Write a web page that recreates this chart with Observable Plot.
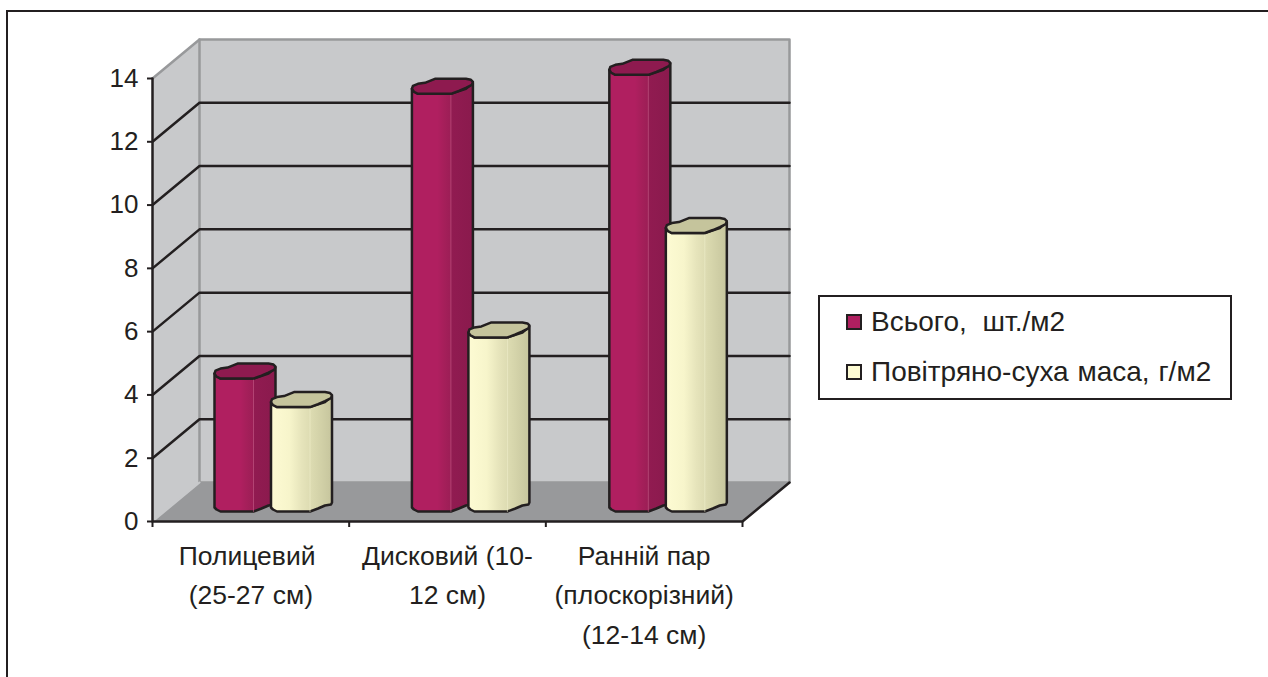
<!DOCTYPE html>
<html><head><meta charset="utf-8">
<script src="https://cdn.jsdelivr.net/npm/d3@7"></script>
<script src="https://cdn.jsdelivr.net/npm/@observablehq/plot@0.6"></script>
<style>
html,body{margin:0;background:#fff;overflow:hidden;font-family:"Liberation Sans",Arial,sans-serif;color:#231f20}
#frame{position:absolute;left:6px;top:10px;width:1300px;height:700px;border:2.5px solid #231f20;box-sizing:border-box}
#chart{position:absolute;left:0;top:0}
#legend{position:absolute;left:818px;top:295px;width:414px;height:105px;border:2.5px solid #231f20;box-sizing:border-box;background:#fff}
.li{position:absolute;left:26px;display:flex;align-items:center;font-size:28px;white-space:nowrap;height:30px;word-spacing:1px}
.li.first{word-spacing:8px}
.sw{width:16px;height:16px;border:2px solid #231f20;box-sizing:border-box;margin-right:9px}
</style></head><body>
<div id="frame"></div><div id="chart"></div>
<div id="legend"></div>
<script>
const categories = ["Полицевий \n(25-27 см)", "Дисковий (10-\n12 см)", "Ранній пар\n(плоскорізний)\n(12-14 см)"];
const seriesNames = ["Всього, шт./м2", "Повітряно-суха маса, г/м2"];
const totalValues = [4.2, 13.2, 13.8];
const massValues = [3.3, 5.5, 8.8];
const yTicks = [0, 2, 4, 6, 8, 10, 12, 14];

const W = 1268, H = 677, L = 152, R = 742, T = 78, B = 521;
const ux = (R - L) / categories.length, uy = (B - T) / 14;
const px = p => p / ux, py = p => p / uy;      // pixel lengths → data units
const DX = px(47), DY = py(39);                // depth of the 3-D box
const BX = [px(62), px(118.5)];                // bar offset inside a category
const GAP = px(0.75);
const BASE = py(10);

const colors = [
  {id:"gMaroon", cap:"#8e1a4f", stops:[[0,"#b01f60"],[.42,"#b01f60"],[.53,"#a51f5a"],[.635,"#9c1e56"],[.645,"#911b51"],[1,"#8a1a4d"]], legend:"#b01f60"},
  {id:"gYellow", cap:"#c5c49c", stops:[[0,"#fdfbd3"],[.3,"#f7f5cb"],[.5,"#e6e4bb"],[.72,"#d8d7ad"],[1,"#c6c59d"]], legend:"#fdfbd3"}
];

const poly = (pts, id) => pts.map(([x, y]) => ({x, y, id}));
function barBody(c, s, v) {
  const x0 = c + BX[s] + c * GAP, Y = BASE + v;
  const t = (a, b) => [x0 + px(a), Y + py(-b)], f = (a, b) => [x0 + px(a), BASE + py(-b)];
  return [t(0,-5), f(0,-4), f(2,-2), f(6,0), f(39,0), f(47,-3), f(54,-6), f(60,-7), f(61,-9), t(61,-11), t(54,-5), t(39,0), t(6,0), t(0,-5)];
}
function barCap(c, s, v) {
  const x0 = c + BX[s] + c * GAP, Y = BASE + v;
  const t = (a, b) => [x0 + px(a), Y + py(-b)];
  return [t(0,-5), t(1,-8), t(6,-10), t(13,-11), t(18,-13), t(23,-15), t(54,-15), t(59,-14), t(61,-12), t(60,-9), t(54,-6), t(47,-3), t(39,0), t(6,0), t(2,-2), t(0,-5)];
}

const defs = () => {
  const d = d3.create("svg:defs");
  for (const g of colors) {
    const lg = d.append("linearGradient").attr("id", g.id);
    for (const [o, col] of g.stops) lg.append("stop").attr("offset", o).attr("stop-color", col);
  }
  return d.node();
};

const n = categories.length, gridVals = yTicks.slice(1, -1);
const line = {x:"x", y:"y", z:"id"};
const marks = [
  defs,
  // walls and floor
  Plot.line(poly([[0,0],[DX,DY],[DX,14+DY],[0,14],[0,0]],"side"), {...line, fill:"#c8c9cb", stroke:"none"}),
  Plot.line(poly([[DX,DY],[n+DX,DY],[n+DX,14+DY],[DX,14+DY],[DX,DY]],"back"), {...line, fill:"#c8c9cb", stroke:"#98999b", strokeWidth:2.5}),
  Plot.line(poly([[0,14],[DX,14+DY]],"topEdge"), {...line, stroke:"#98999b", strokeWidth:2.5}),
  Plot.line(poly([[0,0],[n,0],[n+DX,DY],[DX,DY],[0,0]],"floor"), {...line, fill:"#98999b", stroke:"none"}),
  Plot.line(poly([[0,0],[DX,DY]],"floorEdge"), {...line, stroke:"#c8c9cb", strokeWidth:2}),
  // gridlines
  Plot.line(gridVals.flatMap(v => poly([[0,v],[DX,v+DY],[n+DX,v+DY]],"g"+v)), {...line, stroke:"#231f20", strokeWidth:2.5}),
  // axes
  Plot.line(poly([[0,14],[0,0],[n,0],[n+DX,DY]],"axis"), {...line, stroke:"#231f20", strokeWidth:2.5}),
  Plot.ruleX(d3.range(n + 1), {y1:0, y2:py(-6), stroke:"#231f20", strokeWidth:2}),
  Plot.axisY({ticks:yTicks, tickSize:5, tickPadding:9, fontSize:26, strokeWidth:2, stroke:"#231f20", fill:"#231f20", label:null}),
  Plot.axisX({ticks:[], label:null}),
  Plot.text(categories, {x:(d,i)=>i+.5, y:0, dy:15, text:d=>d, lineAnchor:"top", textAnchor:"middle", fontSize:26.5, lineHeight:1.5, fill:"#231f20"})
];
for (let c = 0; c < n; c++) {
  [totalValues[c], massValues[c]].forEach((v, s) => {
    const hx = c + BX[s] + c * GAP + px(39);
    marks.push(Plot.line(poly(barBody(c, s, v), `b${c}${s}`), {...line, fill:`url(#${colors[s].id})`, stroke:"#231f20", strokeWidth:2.5, strokeLinejoin:"round"}));
    marks.push(Plot.line(poly([[hx,BASE+v],[hx,BASE]],`h${c}${s}`), {...line, stroke:s?"#f2f0cf":"#c9628c", strokeWidth:.8, strokeOpacity:.7}));
    marks.push(Plot.line(poly(barCap(c, s, v), `c${c}${s}`), {...line, fill:colors[s].cap, stroke:"#231f20", strokeWidth:2.5, strokeLinejoin:"round"}));
  });
}

const chart = Plot.plot({
  width:W, height:H, marginLeft:L, marginRight:W-R, marginTop:T, marginBottom:H-B,
  style:{fontFamily:"'Liberation Sans',Arial,sans-serif", background:"transparent", overflow:"visible"},
  x:{type:"linear", domain:[0,n], axis:null},
  y:{type:"linear", domain:[0,14], axis:null},
  marks
});
document.getElementById("chart").appendChild(chart);

const leg = document.getElementById("legend");
seriesNames.forEach((name, i) => {
  const r = document.createElement("div"); r.className = "li" + (i ? "" : " first"); r.style.top = (i ? 60 : 10) + "px";
  const sw = document.createElement("span"); sw.className = "sw"; sw.style.background = colors[i].legend;
  r.appendChild(sw); r.appendChild(document.createTextNode(name)); leg.appendChild(r);
});
</script>
</body></html>
